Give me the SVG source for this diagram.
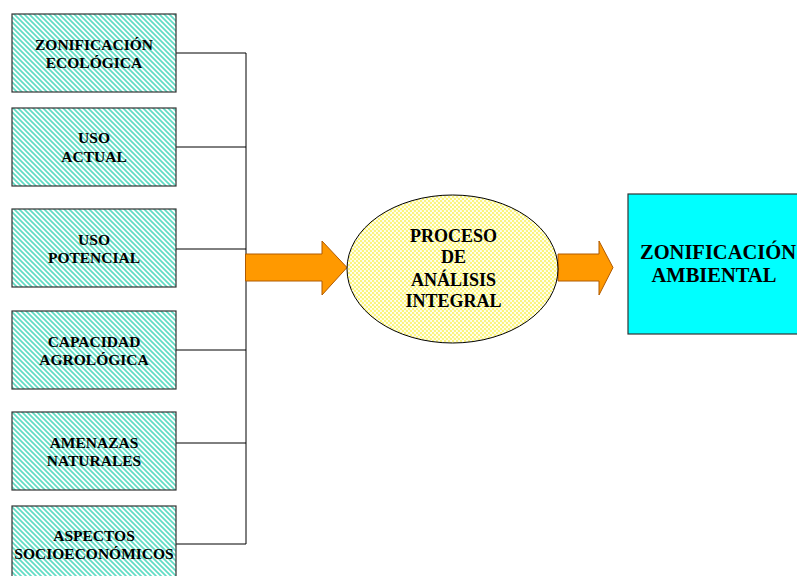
<svg xmlns="http://www.w3.org/2000/svg" width="797" height="576" viewBox="0 0 797 576">
<defs>
<pattern id="hatch" width="5" height="5" patternUnits="userSpaceOnUse">
<rect width="5" height="5" fill="#ffffff"/>
<path d="M-1,-1 L6,6 M-1,4 L1,6 M4,-1 L6,1" stroke="#60dcc4" stroke-width="1.7"/>
</pattern>
<pattern id="dots" width="4" height="4" patternUnits="userSpaceOnUse">
<rect width="4" height="4" fill="#fffff2"/>
<circle cx="1" cy="1" r="1.2" fill="#fbf47a"/>
<circle cx="3" cy="3" r="1.2" fill="#fbf47a"/>
</pattern>
</defs>
<style>
.box{fill:url(#hatch);stroke:#333;stroke-width:1.2}
.t{font-family:"Liberation Serif",serif;font-weight:bold;font-size:15.5px;text-anchor:middle;fill:#000}
.tb{font-family:"Liberation Serif",serif;font-weight:bold;font-size:18px;text-anchor:middle;fill:#000}
.tc{font-family:"Liberation Serif",serif;font-weight:bold;font-size:20.5px;text-anchor:middle;fill:#000}
.ln{stroke:#000;stroke-width:1;fill:none}
.arrow{fill:#ff9900;stroke:#b05a00;stroke-width:1}
</style>
<g id="connectors">
<path class="ln" d="M176,53 H246 M176,147 H246 M176,249 H246 M176,350 H246 M176,443 H246 M176,544 H246 M246,53 V544"/>
<path class="arrow" d="M245.5,254 H322 V241 L347,267.5 L322,295 V281 H245.5 Z"/>
<path class="arrow" d="M558,254 H599 V241 L613,267.5 L599,295 V281 H558 Z"/>
</g>
<g id="n1"><rect class="box" x="12" y="14" width="164" height="78"/><text class="t" x="94" y="50">ZONIFICACIÓN</text><text class="t" x="94" y="68">ECOLÓGICA</text></g>
<g id="n2"><rect class="box" x="12" y="108" width="164" height="78"/><text class="t" x="94" y="143">USO</text><text class="t" x="94" y="162">ACTUAL</text></g>
<g id="n3"><rect class="box" x="12" y="209" width="164" height="78"/><text class="t" x="94" y="245">USO</text><text class="t" x="94" y="263">POTENCIAL</text></g>
<g id="n4"><rect class="box" x="12" y="311" width="164" height="78"/><text class="t" x="94" y="347">CAPACIDAD</text><text class="t" x="94" y="365">AGROLÓGICA</text></g>
<g id="n5"><rect class="box" x="12" y="412" width="164" height="78"/><text class="t" x="94" y="448">AMENAZAS</text><text class="t" x="94" y="466">NATURALES</text></g>
<g id="n6"><rect class="box" x="12" y="506" width="164" height="78"/><text class="t" x="94" y="541">ASPECTOS</text><text class="t" x="94" y="559">SOCIOECONÓMICOS</text></g>
<g id="proceso"><ellipse cx="452.5" cy="269" rx="105.5" ry="74" fill="url(#dots)" stroke="#000" stroke-width="1"/>
<text class="tb" x="453.5" y="242">PROCESO</text><text class="tb" x="453.5" y="263">DE</text><text class="tb" x="453.5" y="286">ANÁLISIS</text><text class="tb" x="453.5" y="307">INTEGRAL</text></g>
<g id="zonificacion"><rect x="628" y="194" width="180" height="140" fill="#00ffff" stroke="#333" stroke-width="1.2"/>
<text class="tc" x="718" y="259">ZONIFICACIÓN</text><text class="tc" x="714" y="282">AMBIENTAL</text></g>
</svg>
